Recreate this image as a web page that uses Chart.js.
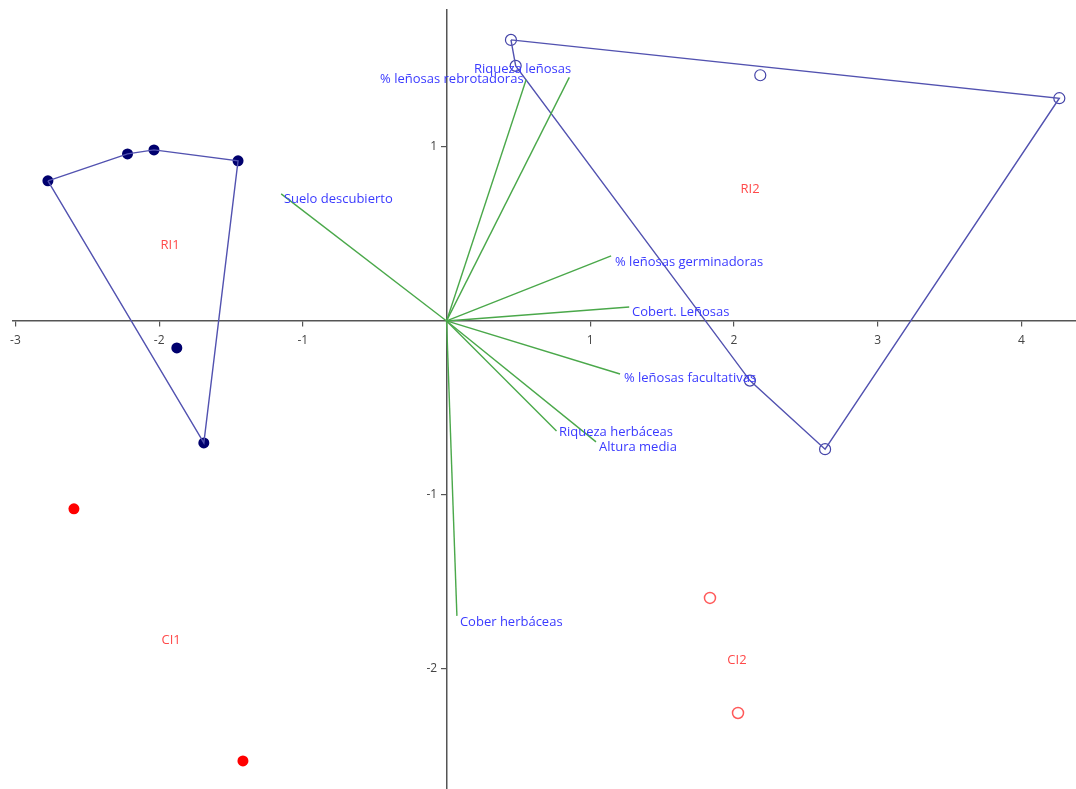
<!DOCTYPE html>
<html>
<head>
<meta charset="utf-8">
<script src="https://cdn.jsdelivr.net/npm/chart.js@4/dist/chart.umd.min.js"></script>
<style>
  html, body { margin: 0; padding: 0; background: #fff; }
  #wrap { width: 1076px; height: 789px; }
</style>
</head>
<body>
<div id="wrap"><canvas id="biplot"></canvas></div>
<script>
// Sitios (puntuaciones)
const ri1X = [-2.774, -2.220, -2.036, -1.451, -1.877, -1.689]
const ri1Y = [0.805, 0.960, 0.983, 0.920, -0.155, -0.701]
const ri2X = [0.448, 0.481, 2.183, 4.264, 2.111, 2.634]
const ri2Y = [1.615, 1.466, 1.412, 1.280, -0.343, -0.737]
const ci1X = [-2.593, -1.417]
const ci1Y = [-1.080, -2.529]
const ci2X = [1.833, 2.028]
const ci2Y = [-1.592, -2.253]

// Envolventes (indices de los puntos)
const ri1Hull = [0, 1, 2, 3, 5, 0]
const ri2Hull = [0, 3, 5, 4, 1, 0]

// Variables (vectores)
const varNames = ["Suelo descubierto", "% leñosas rebrotadoras", "Riqueza leñosas", "% leñosas germinadoras",
  "Cobert. Leñosas", "% leñosas facultativas", "Riqueza herbáceas", "Altura media", "Cober herbáceas"]
const varX = [-1.151, 0.553, 0.854, 1.145, 1.271, 1.207, 0.765, 1.040, 0.072]
const varY = [0.730, 1.385, 1.400, 0.374, 0.080, -0.305, -0.632, -0.695, -1.695]
const varLabelX = [-1.132, -0.463, 0.191, 1.172, 1.290, 1.234, 0.782, 1.061, 0.093]
const varLabelY = [0.701, 1.391, 1.448, 0.339, 0.052, -0.328, -0.638, -0.724, -1.730]

// Etiquetas de grupo
const groupNames = ["RI1", "RI2", "CI1", "CI2"]
const groupX = [-1.924, 2.112, -1.917, 2.021]
const groupY = [0.437, 0.759, -1.833, -1.948]

// Ticks
const xTicks = [-3, -2, -1, 1, 2, 3, 4]
const yTicks = [-2, -1, 1]

const pts = (xs, ys) => xs.map((x, i) => ({ x: x, y: ys[i] }))
const hull = (xs, ys, idx) => idx.map((i) => ({ x: xs[i], y: ys[i] }))

const datasets = []

// vectores verdes
varX.forEach((vx, i) => {
  datasets.push({
    type: "line",
    data: [{ x: 0, y: 0 }, { x: vx, y: varY[i] }],
    borderColor: "#4aa84a",
    borderWidth: 1.4,
    pointRadius: 0,
    fill: false,
  })
})

datasets.push({
  type: "line",
  data: hull(ri1X, ri1Y, ri1Hull),
  borderColor: "#5252b0",
  borderWidth: 1.4,
  pointRadius: 0,
  fill: false,
})
datasets.push({
  type: "line",
  data: hull(ri2X, ri2Y, ri2Hull),
  borderColor: "#5252b0",
  borderWidth: 1.4,
  pointRadius: 0,
  fill: false,
})

datasets.push({
  data: pts(ri1X, ri1Y),
  pointRadius: 5.5,
  backgroundColor: "#00006e",
  borderColor: "#00006e",
  borderWidth: 0,
})
datasets.push({
  data: pts(ri2X, ri2Y),
  pointRadius: 5.5,
  backgroundColor: "rgba(0,0,0,0)",
  borderColor: "#4444a8",
  borderWidth: 1.2,
})
datasets.push({
  data: pts(ci1X, ci1Y),
  pointRadius: 5.5,
  backgroundColor: "#ff0000",
  borderColor: "#ff0000",
  borderWidth: 0,
})
datasets.push({
  data: pts(ci2X, ci2Y),
  pointRadius: 5.5,
  backgroundColor: "rgba(0,0,0,0)",
  borderColor: "#ff5a5a",
  borderWidth: 1.5,
})

// Textos de variables y grupos
const textLabels = {
  id: "textLabels",
  afterDatasetsDraw(chart) {
    const ctx = chart.ctx
    const sx = chart.scales.x
    const sy = chart.scales.y
    ctx.save()
    ctx.font = "13px 'Open Sans', sans-serif"
    ctx.textBaseline = "middle"
    ctx.textAlign = "left"
    ctx.fillStyle = "#3a3aff"
    varNames.forEach((name, i) => {
      ctx.fillText(name, sx.getPixelForValue(varLabelX[i]), sy.getPixelForValue(varLabelY[i]))
    })
    ctx.textAlign = "center"
    ctx.fillStyle = "#ff4a4a"
    groupNames.forEach((name, i) => {
      ctx.fillText(name, sx.getPixelForValue(groupX[i]), sy.getPixelForValue(groupY[i]))
    })
    ctx.restore()
  },
}

// los ejes cruzan en el origen: que no ocupen sitio en el layout
function noSpace(s) {
  if (s.isHorizontal()) s.height = 0
  else s.width = 0
  s.paddingLeft = 0
  s.paddingRight = 0
  s.paddingTop = 0
  s.paddingBottom = 0
}

new Chart(document.getElementById("biplot"), {
  type: "scatter",
  data: { datasets: datasets },
  options: {
    responsive: true,
    maintainAspectRatio: false,
    animation: false,
    layout: { autoPadding: false, padding: { left: 13, top: 10, right: 0, bottom: 0 } },
    plugins: { legend: { display: false }, tooltip: { enabled: false } },
    scales: {
      x: {
        type: "linear",
        position: { y: 0 },
        min: -3.017,
        max: 4.38,
        afterFit: noSpace,
        afterBuildTicks: (s) => { s.ticks = xTicks.map((v) => ({ value: v })) },
        grid: { drawOnChartArea: false, drawTicks: true, tickLength: 5, color: "#555", lineWidth: 1.2 },
        border: { display: true, color: "#555", width: 1.5 },
        ticks: { padding: 7, color: "#444", font: { family: "'Open Sans', sans-serif", size: 12 }, maxRotation: 0 },
      },
      y: {
        type: "linear",
        position: { x: 0 },
        min: -2.69,
        max: 1.787,
        afterFit: noSpace,
        afterBuildTicks: (s) => { s.ticks = yTicks.map((v) => ({ value: v })) },
        grid: { drawOnChartArea: false, drawTicks: true, tickLength: 5, color: "#555", lineWidth: 1.2 },
        border: { display: true, color: "#555", width: 1.5 },
        ticks: {
          color: "#444",
          font: { family: "'Open Sans', sans-serif", size: 12 },
          callback: (v) => v + "   ",
        },
      },
    },
  },
  plugins: [textLabels],
})
</script>
</body>
</html>
